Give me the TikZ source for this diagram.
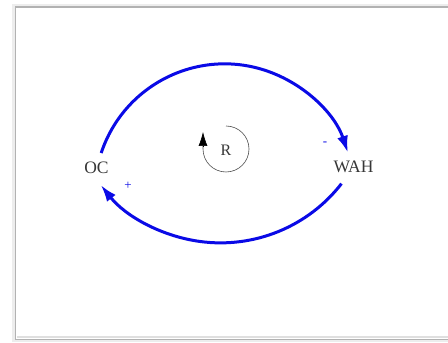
\documentclass[tikz,border=0pt]{standalone}
\usepackage{fontspec}
\setmainfont{Liberation Serif}
\usetikzlibrary{arrows.meta}
\definecolor{loopblue}{RGB}{10,10,230}
\definecolor{txtgray}{RGB}{55,55,55}
\tikzset{
  var/.style={circle, minimum size=30pt, inner sep=0pt, text=txtgray, font=\fontsize{17.5}{20}\selectfont},
  link/.style={draw=loopblue, line width=3pt, -{Latex[length=17pt,width=11pt]}},
  pol/.style={text=loopblue, font=\fontsize{13}{15}\selectfont, inner sep=0pt},
}
\begin{document}
\begin{tikzpicture}[x=1pt,y=1pt]
\useasboundingbox (0,0) rectangle (448,343);
\fill[white] (0,0) rectangle (448,343);
% frame with soft shadow
\fill[gray!14] (12,0.5) rectangle (448,338.5);
\fill[white] (16,4) rectangle (448,336);
\draw[gray!60, line width=1.5pt] (15.5,3.5) rectangle (449,336);
\draw[gray!25, line width=1.4pt] (17,5.8) -- (449,5.8);
% variables
\node[var] (OC) at (96.5,175.5) {OC};
\node[var] (WAH) at (353.5,176.5) {WAH};
% connectors (circular arcs)
\draw[link] (OC.72) arc[start angle=161.7, end angle=18.4, radius=130];
\draw[link] (WAH.235) arc[start angle=-37.8, end angle=-141.6, radius=153];
% polarities
\node[pol] (minus) at (325,199.5) {-};
\node[pol] (plus) at (128,157) {+};
% loop indicator
\node[text=txtgray, font=\fontsize{16}{18}\selectfont] (R) at (226,193) {R};
\coordinate (Rtop) at (226,217);
\coordinate (Rtip) at (203,211);
\draw[black!70, line width=0.6pt]
  (Rtop) arc[start angle=90, end angle=-180, radius=23] -- (203,197);
\draw[black, line width=0.6pt, -{Latex[length=14pt,width=9pt]}] (203,196) -- (Rtip);
\end{tikzpicture}
\end{document}
